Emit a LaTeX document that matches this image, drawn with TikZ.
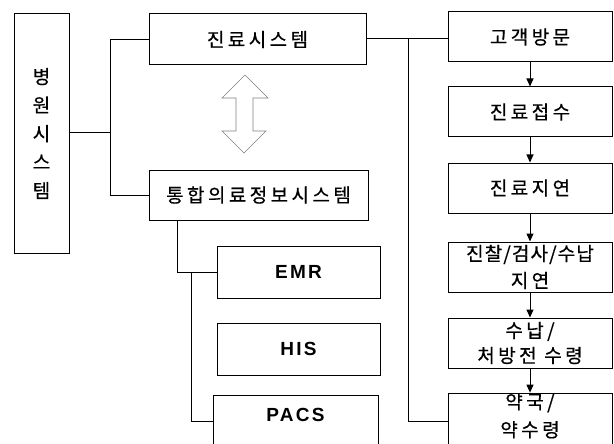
\documentclass[tikz,border=0pt]{standalone}
\usepackage{fontspec}
\usetikzlibrary{arrows.meta}
\newfontfamily\krfont[LetterSpace=18,FakeBold=0.6]{Noto Sans CJK KR}
\newfontfamily\krnarrow[LetterSpace=6,FakeBold=0.6]{Noto Sans CJK KR}
\newfontfamily\enfont[LetterSpace=12]{Liberation Sans}
\begin{document}
\begin{tikzpicture}[x=1pt,y=-1pt,
  box/.style={draw,line width=1pt,inner sep=0pt,font=\krfont\fontsize{19}{25}\selectfont,align=center},
  enbox/.style={draw,line width=1pt,inner sep=0pt,font=\enfont\bfseries\fontsize{19}{22}\selectfont},
  conn/.style={line width=1pt},
  arr/.style={line width=1pt,-{Triangle[length=8pt,width=7pt]}},
  dbl/.style={draw=black!50,line width=0.6pt}
]
\useasboundingbox (0,0) rectangle (614,444);

% left column
\node[box,minimum width=55,minimum height=239,font=\krfont\fontsize{19}{28.5}\selectfont] (byeong) at (41.5,133.5) {병\\원\\시\\스\\템};
\node[box,minimum width=217,minimum height=51] (jinryo) at (257.5,39.5) {진료시스템};
\node[box,minimum width=219,minimum height=50] (tonghap) at (258.5,195) {통합의료정보시스템};
\node[enbox,minimum width=163,minimum height=52] (emr) at (298.5,272) {EMR};
\node[enbox,minimum width=163,minimum height=52] (his) at (298.5,349) {HIS};
\node[enbox,minimum width=165,minimum height=52,text depth=12pt] (pacs) at (295.5,421) {PACS};

% right column
\node[box,minimum width=164,minimum height=50] (gogaek) at (530,37) {고객방문};
\node[box,minimum width=164,minimum height=50] (jeopsu) at (530,112) {진료접수};
\node[box,minimum width=164,minimum height=50] (jiyeon) at (530,188) {진료지연};
\node[box,minimum width=164,minimum height=50,font=\krfont\fontsize{19}{27}\selectfont] (jinchal) at (530,267) {{\krnarrow 진찰/검사/수납}\\지연};
\node[box,minimum width=164,minimum height=50,font=\krfont\fontsize{19}{25}\selectfont] (sunap) at (530,343) {수납/\\처방전 수령};
\node[box,minimum width=164,minimum height=52,font=\krfont\fontsize{19}{28}\selectfont,text depth=12pt] (yakguk) at (530,421) {약국/\\약수령};

% connectors
\coordinate (j1) at (110,133);
\draw[conn] (byeong.east |- j1) -- (j1);
\draw[conn] (jinryo.west) -| (j1);
\draw[conn] (tonghap.west) -| (j1);

\coordinate (j2) at (408,39);
\draw[conn] (jinryo.east |- j2) -- (gogaek.west |- j2);
\draw[conn] (j2) |- (yakguk.west);

\coordinate (j3) at (177,272);
\coordinate (j4) at (191,272);
\draw[conn] (j3 |- tonghap.south) -- (j3) -- (emr.west);
\draw[conn] (j4) |- (pacs.west);

\draw[arr] (gogaek.south) -- (jeopsu.north);
\draw[arr] (jeopsu.south) -- (jiyeon.north);
\draw[arr] (jiyeon.south) -- (jinchal.north);
\draw[arr] (jinchal.south) -- (sunap.north);
\draw[arr] (sunap.south) -- (yakguk.north);

% hollow double arrow
\draw[dbl] (245,75) -- (268,98) -- (253,98) -- (253,131) -- (266,131) -- (244,153)
  -- (222,131) -- (236,131) -- (236,98) -- (222,98) -- cycle;
\end{tikzpicture}
\end{document}
